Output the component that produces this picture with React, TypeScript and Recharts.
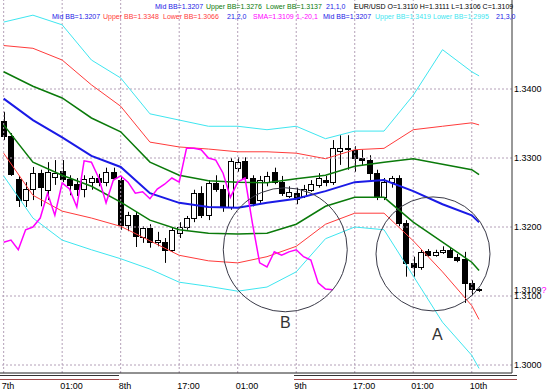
import React from "react";
import { ComposedChart, Bar, Line, XAxis, YAxis, ReferenceLine, ReferenceDot } from "recharts";

// EUR/USD candles, index 0..65 (8 bars per grid column)
const open = [
  1.3354, 1.3332, 1.327, 1.3239, 1.3255, 1.3278, 1.3254, 1.3272, 1.3281, 1.327, 1.3262, 1.3255, 1.3265, 1.3271, 1.3265, 1.328,
  1.3268, 1.3203, 1.3217, 1.3186, 1.3199, 1.3178, 1.3178, 1.3167, 1.3191, 1.32, 1.3213, 1.3249, 1.3217, 1.3264, 1.3255, 1.3229,
  1.3286, 1.3296, 1.3271, 1.3239, 1.3265, 1.328, 1.3265, 1.3245, 1.3249, 1.3245, 1.3254, 1.3261, 1.3268, 1.3264, 1.331, 1.3314,
  1.3312, 1.33, 1.3297, 1.3278, 1.3243, 1.3265, 1.3271, 1.3206, 1.3148, 1.3142, 1.3165, 1.3159, 1.3164, 1.3167, 1.3157, 1.3154,
  1.3119, 1.311,
];
const high = [
  1.3367, 1.3336, 1.3274, 1.3265, 1.3287, 1.3283, 1.3294, 1.3297, 1.3297, 1.3275, 1.3271, 1.3275, 1.3274, 1.3277, 1.3286, 1.3286,
  1.3274, 1.3222, 1.3222, 1.3201, 1.3204, 1.3193, 1.3184, 1.3199, 1.3207, 1.3216, 1.3254, 1.3259, 1.3268, 1.3275, 1.3261, 1.33,
  1.3301, 1.3301, 1.3275, 1.3274, 1.328, 1.3286, 1.3274, 1.3259, 1.3257, 1.3261, 1.3268, 1.3278, 1.3274, 1.3326, 1.3333, 1.3333,
  1.3317, 1.3312, 1.3304, 1.3283, 1.3271, 1.3274, 1.3275, 1.321, 1.3157, 1.3167, 1.3168, 1.3167, 1.3172, 1.317, 1.3161, 1.3164,
  1.3123, 1.3111,
];
const low = [
  1.3326, 1.3274, 1.3229, 1.3229, 1.3239, 1.323, 1.3239, 1.3261, 1.3265, 1.3246, 1.3245, 1.3243, 1.3254, 1.3259, 1.3259, 1.3268,
  1.3196, 1.3194, 1.3171, 1.3177, 1.317, 1.3172, 1.3148, 1.3164, 1.3184, 1.3196, 1.3207, 1.3213, 1.321, 1.3251, 1.3222, 1.3225,
  1.328, 1.3265, 1.323, 1.3235, 1.3259, 1.3262, 1.3245, 1.3242, 1.3233, 1.3242, 1.3251, 1.3257, 1.3259, 1.3261, 1.329, 1.3283,
  1.328, 1.329, 1.3268, 1.3239, 1.3239, 1.3257, 1.3201, 1.3128, 1.3128, 1.3138, 1.3157, 1.3157, 1.3161, 1.3155, 1.3149, 1.309,
  1.3101, 1.3106,
];
const close = [
  1.3332, 1.3277, 1.3239, 1.3255, 1.3278, 1.3257, 1.328, 1.3278, 1.327, 1.3262, 1.3255, 1.327, 1.3271, 1.3265, 1.328, 1.3271,
  1.3203, 1.3217, 1.3186, 1.3199, 1.3178, 1.3181, 1.3167, 1.3196, 1.32, 1.3213, 1.3249, 1.3217, 1.3264, 1.3255, 1.3229, 1.3296,
  1.3294, 1.3271, 1.3235, 1.3268, 1.3274, 1.3265, 1.3249, 1.3251, 1.3241, 1.3255, 1.3262, 1.3271, 1.3265, 1.3314, 1.3314, 1.3312,
  1.33, 1.3297, 1.3278, 1.3243, 1.3265, 1.3271, 1.3206, 1.3148, 1.3142, 1.3164, 1.3159, 1.3164, 1.3167, 1.3157, 1.3152, 1.3119,
  1.311, 1.3109,
];

// Bollinger bands (21) read at these bar indexes
const bandIdx = [0, 4, 8, 12, 16, 20, 24, 28, 32, 36, 40, 44, 48, 52, 56, 60, 64, 65];
const midBB = [1.3386, 1.3355, 1.333, 1.3303, 1.3287, 1.3249, 1.3235, 1.3229, 1.3228, 1.3235, 1.3241, 1.3252, 1.3265, 1.3268, 1.3252, 1.3233, 1.3217, 1.3207];
const upper1 = [1.3425, 1.3404, 1.3387, 1.3358, 1.3338, 1.3294, 1.3275, 1.3267, 1.3265, 1.3264, 1.327, 1.3275, 1.3288, 1.3294, 1.3299, 1.3291, 1.3283, 1.3276];
const lower1 = [1.3348, 1.3294, 1.3275, 1.3259, 1.3236, 1.321, 1.3196, 1.3191, 1.319, 1.3191, 1.3204, 1.323, 1.3243, 1.3243, 1.3207, 1.3178, 1.3149, 1.3137];
const upper2 = [1.3463, 1.3459, 1.3442, 1.3406, 1.3375, 1.3323, 1.3316, 1.3313, 1.3309, 1.3309, 1.3307, 1.3299, 1.3312, 1.3314, 1.3341, 1.3346, 1.3351, 1.3348];
const lower2 = [1.3307, 1.3246, 1.3223, 1.3213, 1.3201, 1.318, 1.3159, 1.3151, 1.3148, 1.3157, 1.3172, 1.3204, 1.322, 1.322, 1.318, 1.3135, 1.3086, 1.3066];
const upper3 = [1.3497, 1.3507, 1.3493, 1.3442, 1.3416, 1.3364, 1.3355, 1.3346, 1.3346, 1.3341, 1.3346, 1.3328, 1.3339, 1.3339, 1.3391, 1.3457, 1.3425, 1.3419];
const lower3 = [1.3274, 1.3213, 1.3181, 1.3167, 1.3154, 1.3139, 1.312, 1.3114, 1.3107, 1.3113, 1.3135, 1.3183, 1.32, 1.3196, 1.3129, 1.3062, 1.3014, 1.2995];

const chikouShift = 20; // SMA(1,-20)
const timeLabels = ["7th", "01:00", "8th", "17:00", "01:00", "9th", "17:00", "01:00", "10th"];
const gridIdx = [0, 8, 16, 24, 32, 40, 48, 56, 64];
const priceTicks = [1.3, 1.31, 1.32, 1.33, 1.34];
const lastPrice = 1.3109;

// annotation circles (bar index / price)
const circleB = { x: 38.5, y: 1.3167, r: 62, label: "B", lx: 38.5, ly: 1.3062 };
const circleA = { x: 58.7, y: 1.3161, r: 57, label: "A", lx: 59.3, ly: 1.3044 };

const TOTAL = 70;
const rows = Array.from({ length: TOTAL }, (_, i) => {
  const row: any = { i };
  if (i < open.length) {
    row.open = open[i];
    row.high = high[i];
    row.low = low[i];
    row.close = close[i];
  }
  if (i + chikouShift < close.length) row.chikou = close[i + chikouShift];
  const b = bandIdx.indexOf(i);
  if (b >= 0) {
    row.mid = midBB[b];
    row.u1 = upper1[b];
    row.l1 = lower1[b];
    row.u2 = upper2[b];
    row.l2 = lower2[b];
    row.u3 = upper3[b];
    row.l3 = lower3[b];
  }
  return row;
});

function Candle(props: any) {
  const { x, y, width, height, payload } = props;
  if (!payload || payload.open == null || height == null) return null;
  const span = payload.high - payload.low;
  const k = span > 0 ? height / span : 0;
  const top = y + (payload.high - Math.max(payload.open, payload.close)) * k;
  const bot = y + (payload.high - Math.min(payload.open, payload.close)) * k;
  const cx = Math.round(x + width / 2) + 0.5;
  const left = Math.round(x) + 0.5;
  const bull = payload.close > payload.open;
  return (
    <g>
      <line x1={cx} x2={cx} y1={y} y2={y + height} stroke="#000" strokeWidth={1} />
      <rect
        x={left}
        y={Math.round(top) + 0.5}
        width={width - 1}
        height={Math.max(1, Math.round(bot - top))}
        fill={bull ? "#fff" : "#000"}
        stroke="#000"
        strokeWidth={1}
      />
    </g>
  );
}

function TimeTick(props: any) {
  const { x, y, payload } = props;
  const n = gridIdx.indexOf(payload.value);
  return (
    <text x={x - 2} y={y + 14} fontSize={9} fontFamily="Liberation Sans, Arial" fill="#000" textAnchor="start">
      {n >= 0 ? timeLabels[n] : ""}
    </text>
  );
}

function PriceLabel(props: any) {
  const { viewBox } = props;
  const x = viewBox.x + viewBox.width + 2;
  return (
    <g>
      <rect x={x} y={viewBox.y - 4} width={33} height={8} fill="#fff" />
      <text x={x} y={viewBox.y + 3} fontSize={9} fontFamily="Liberation Sans, Arial" fill="#000">
        {lastPrice.toFixed(4)}
        <tspan fill="#ff00ff">?</tspan>
      </text>
    </g>
  );
}

const C = {
  blue: "#1a1ae6",
  green: "#0a7a0a",
  red: "#ff3b3b",
  cyan: "#3ee6f0",
  magenta: "#ff00ff",
  grid: "#b4a0b8",
};

const legendFont: React.CSSProperties = {
  position: "absolute",
  fontFamily: "Liberation Sans, Arial",
  fontSize: 7,
  lineHeight: "7px",
  whiteSpace: "pre",
};

const legendRow1 = [
  { t: "Mid BB=1.3207", x: 155, c: C.blue },
  { t: "Upper BB=1.3276", x: 206, c: C.green },
  { t: "Lower BB=1.3137", x: 266, c: C.green },
  { t: "21,1,0", x: 326, c: C.blue },
  { t: "EUR/USD O=1.3110 H=1.3111 L=1.3106 C=1.3109", x: 354, c: "#000" },
];
const legendRow2 = [
  { t: "Mid BB=1.3207", x: 52, c: C.blue },
  { t: "Upper BB=1.3348", x: 103, c: C.red },
  { t: "Lower BB=1.3066", x: 163, c: C.red },
  { t: "21,2,0", x: 227, c: C.blue },
  { t: "SMA=1.3109", x: 253, c: C.magenta },
  { t: "1,-20,1", x: 296, c: C.magenta },
  { t: "Mid BB=1.3207", x: 323, c: C.blue },
  { t: "Upper BB=1.3419", x: 375, c: C.cyan },
  { t: "Lower BB=1.2995", x: 433, c: C.cyan },
  { t: "21,3,0", x: 496, c: C.blue },
];

// day bars under the time axis
const dayBars = [
  { x: 0, w: 119 },
  { x: 294, w: 223 },
];

const lineProps = { dot: false, activeDot: false, connectNulls: true, isAnimationActive: false } as const;

export default function App() {
  return (
    <div style={{ position: "absolute", left: 0, top: 0, width: 548, height: 390, background: "#fff" }}>
      <ComposedChart width={548} height={390} data={rows} margin={{ top: 0, right: 0, bottom: 0, left: 0 }}>
        <XAxis
          dataKey="i"
          type="number"
          domain={[-0.5, TOTAL - 0.5]}
          ticks={gridIdx}
          interval={0}
          height={17}
          tickLine={false}
          tickSize={0}
          tick={<TimeTick />}
          axisLine={{ stroke: "#222" }}
          allowDataOverflow
        />
        <YAxis
          orientation="right"
          width={36}
          domain={[1.298841, 1.352899]}
          ticks={priceTicks}
          interval={0}
          allowDataOverflow
          tickLine={false}
          tickSize={0}
          tickMargin={2}
          tickFormatter={(v: number) => v.toFixed(4)}
          tick={{ fontSize: 9, fill: "#000", fontFamily: "Liberation Sans, Arial" }}
          axisLine={{ stroke: "#333" }}
        />
        {priceTicks.map((p) => (
          <ReferenceLine key={"h" + p} y={p} stroke={C.grid} strokeDasharray="2 2" />
        ))}
        {gridIdx.map((g) => (
          <ReferenceLine key={"v" + g} x={g} stroke={C.grid} strokeDasharray="2 2" />
        ))}
        <Bar
          dataKey={(d: any) => (d.open == null ? null : [d.low, d.high])}
          barSize={6}
          shape={<Candle />}
          isAnimationActive={false}
        />
        <Line dataKey="u3" stroke={C.cyan} strokeWidth={1} {...lineProps} />
        <Line dataKey="l3" stroke={C.cyan} strokeWidth={1} {...lineProps} />
        <Line dataKey="u2" stroke={C.red} strokeWidth={1} {...lineProps} />
        <Line dataKey="l2" stroke={C.red} strokeWidth={1} {...lineProps} />
        <Line dataKey="u1" stroke={C.green} strokeWidth={1.5} {...lineProps} />
        <Line dataKey="l1" stroke={C.green} strokeWidth={1.5} {...lineProps} />
        <Line dataKey="mid" stroke={C.blue} strokeWidth={2} {...lineProps} />
        <Line dataKey="chikou" stroke={C.magenta} strokeWidth={1.5} dot={false} activeDot={false} isAnimationActive={false} />
        {[circleB, circleA].map((c) => (
          <ReferenceDot key={c.label} x={c.x} y={c.y} r={c.r} fill="none" stroke="#3a3a48" strokeWidth={1} ifOverflow="visible" />
        ))}
        {[circleB, circleA].map((c) => (
          <ReferenceDot
            key={"t" + c.label}
            x={c.lx}
            y={c.ly}
            r={1}
            fill="none"
            stroke="none"
            label={{ value: c.label, position: "center", fontSize: 16, fill: "#333", fontFamily: "Liberation Sans, Arial" }}
          />
        ))}
        <ReferenceLine y={lastPrice} stroke="none" ifOverflow="visible" label={<PriceLabel />} />
      </ComposedChart>
      {dayBars.map((d, k) => (
        <div key={"d" + k} style={{ position: "absolute", left: d.x, top: 375, width: d.w, height: 3, borderTop: "1px solid #333", borderBottom: "1px solid #a04848" }} />
      ))}
      {legendRow1.map((s, k) => (
        <div key={"a" + k} style={{ ...legendFont, left: s.x, top: 3, color: s.c }}>
          {s.t}
        </div>
      ))}
      {legendRow2.map((s, k) => (
        <div key={"b" + k} style={{ ...legendFont, left: s.x, top: 13, color: s.c }}>
          {s.t}
        </div>
      ))}
    </div>
  );
}
